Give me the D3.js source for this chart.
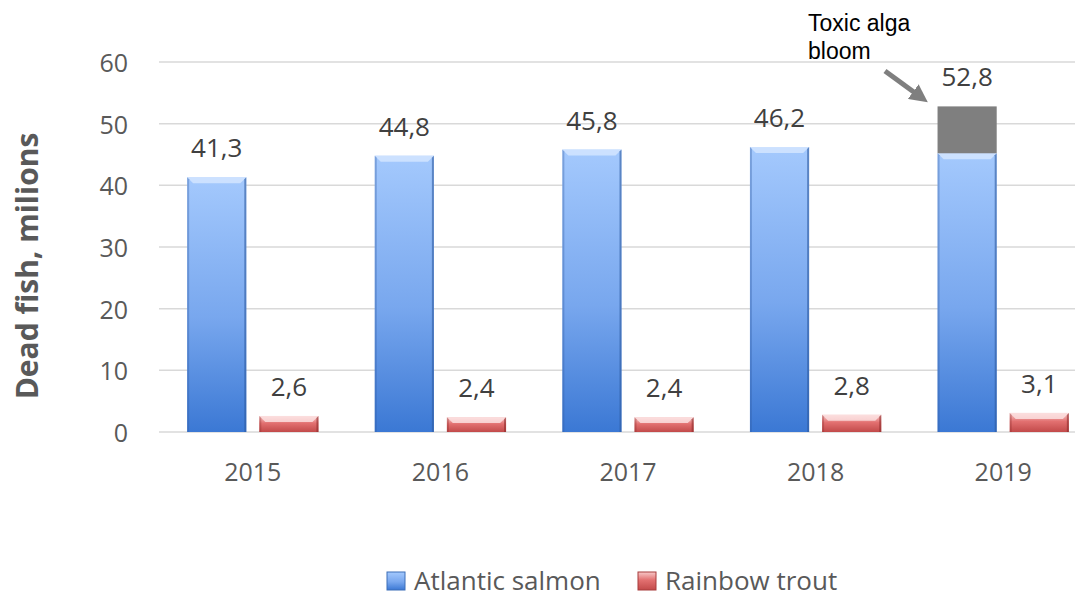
<!DOCTYPE html>
<html>
<head>
<meta charset="utf-8">
<script src="https://cdn.jsdelivr.net/npm/d3@7"></script>
<style>
  body { margin: 0; background: #fff; }
</style>
</head>
<body>
<script>
var years = ["2015", "2016", "2017", "2018", "2019"];
var seriesNames = ["Atlantic salmon", "Rainbow trout"];
var salmon = [41.3, 44.8, 45.8, 46.2, 45.2];
var salmonBloom = [0, 0, 0, 0, 7.6];
var salmonLabels = [41.3, 44.8, 45.8, 46.2, 52.8];
var trout = [2.6, 2.4, 2.4, 2.8, 3.1];
var yTicks = [0, 10, 20, 30, 40, 50, 60];

var chartWidth = 1085;
var chartHeight = 600;
var mainFont = "'Open Sans', sans-serif";

var svg = d3.select("body")
            .append("svg")
            .attr("width", chartWidth)
            .attr("height", chartHeight)
            .style("font-family", mainFont);

var defs = svg.append("defs");

var blueGrad = defs.append("linearGradient")
                   .attr("id", "blueGrad")
                   .attr("x1", 0).attr("y1", 0).attr("x2", 0).attr("y2", 1);
blueGrad.append("stop").attr("offset", "0%").attr("stop-color", "#a4c9fd");
blueGrad.append("stop").attr("offset", "55%").attr("stop-color", "#78a7ee");
blueGrad.append("stop").attr("offset", "100%").attr("stop-color", "#3b78d4");

var redGrad = defs.append("linearGradient")
                  .attr("id", "redGrad")
                  .attr("x1", 0).attr("y1", 0).attr("x2", 0).attr("y2", 1);
redGrad.append("stop").attr("offset", "0%").attr("stop-color", "#f7c9c9");
redGrad.append("stop").attr("offset", "45%").attr("stop-color", "#e27070");
redGrad.append("stop").attr("offset", "100%").attr("stop-color", "#c24a4a");

var plotLeft = 159, plotRight = 1075;

var x0 = d3.scaleBand()
           .domain(years)
           .range([plotLeft, plotLeft + 938])
           .paddingInner(0.3)
           .paddingOuter(0.15);

var x1 = d3.scaleBand()
           .domain(seriesNames)
           .range([0, x0.bandwidth()])
           .paddingInner(0.18);

var yScale = d3.scaleLinear()
               .domain([0, 60])
               .range([432, 62]);

// gridlines
svg.append("g")
   .selectAll("line")
   .data(yTicks)
   .enter()
   .append("line")
   .attr("x1", plotLeft)
   .attr("x2", plotRight)
   .attr("y1", function(d) { return yScale(d); })
   .attr("y2", function(d) { return yScale(d); })
   .attr("stroke", "#d9d9d9")
   .attr("stroke-width", 1.5);

// y tick labels
svg.append("g")
   .selectAll("text")
   .data(yTicks)
   .enter()
   .append("text")
   .attr("x", 128)
   .attr("y", function(d) { return yScale(d) + 10; })
   .attr("text-anchor", "end")
   .attr("font-size", 25)
   .attr("fill", "#595959")
   .text(function(d) { return d; });

// x tick labels
svg.append("g")
   .selectAll("text")
   .data(years)
   .enter()
   .append("text")
   .attr("x", function(d) { return x0(d) + x0.bandwidth() / 2; })
   .attr("y", 481)
   .attr("text-anchor", "middle")
   .attr("font-size", 25)
   .attr("fill", "#595959")
   .text(function(d) { return d; });

// y axis title
svg.append("text")
   .attr("transform", "translate(38," + 266 + ") rotate(-90)")
   .attr("text-anchor", "middle")
   .attr("font-size", 30)
   .attr("font-weight", "bold")
   .attr("fill", "#595959")
   .text("Dead fish, milions");

function bevelBar(g, x, w, yTop, yBot, grad, light, dark) {
  var b = Math.min(6, (yBot - yTop) / 2.5);
  g.append("rect")
   .attr("x", x).attr("y", yTop)
   .attr("width", w).attr("height", yBot - yTop)
   .attr("fill", "url(#" + grad + ")");
  g.append("path")
   .attr("d", "M" + x + "," + yTop + "L" + (x + w) + "," + yTop +
              "L" + (x + w - b) + "," + (yTop + b) + "L" + (x + b) + "," + (yTop + b) + "Z")
   .attr("fill", light).attr("opacity", 0.8);
  g.append("path")
   .attr("d", "M" + (x + w) + "," + yTop + "L" + (x + w) + "," + yBot +
              "L" + (x + w - 2) + "," + yBot + "L" + (x + w - 2) + "," + (yTop + 2) + "Z")
   .attr("fill", dark).attr("opacity", 0.6);
  g.append("path")
   .attr("d", "M" + x + "," + yTop + "L" + x + "," + yBot +
              "L" + (x + 2) + "," + yBot + "L" + (x + 2) + "," + (yTop + 2) + "Z")
   .attr("fill", dark).attr("opacity", 0.35);
}

var bars = svg.append("g");

years.forEach(function(yr, i) {
  var xs = x0(yr) + x1("Atlantic salmon");
  var xt = x0(yr) + x1("Rainbow trout");
  var w = x1.bandwidth();
  bevelBar(bars, xs, w, yScale(salmon[i]), yScale(0), "blueGrad", "#d6e7ff", "#2d5aa0");
  if (salmonBloom[i] > 0) {
    bars.append("rect")
        .attr("x", xs)
        .attr("y", yScale(salmon[i] + salmonBloom[i]))
        .attr("width", w)
        .attr("height", yScale(salmon[i]) - yScale(salmon[i] + salmonBloom[i]))
        .attr("fill", "#7f7f7f");
  }
  bevelBar(bars, xt, w, yScale(trout[i]), yScale(0), "redGrad", "#fde3e3", "#8c2a2a");
});

// data labels
var labels = svg.append("g")
                .attr("font-size", 26)
                .attr("fill", "#404040")
                .attr("text-anchor", "middle");

years.forEach(function(yr, i) {
  var w = x1.bandwidth();
  labels.append("text")
        .attr("x", x0(yr) + x1("Atlantic salmon") + w / 2)
        .attr("y", yScale(salmonLabels[i]) - 20)
        .text(String(salmonLabels[i]).replace(".", ","));
  labels.append("text")
        .attr("x", x0(yr) + x1("Rainbow trout") + w / 2)
        .attr("y", yScale(trout[i]) - 20)
        .text(String(trout[i]).replace(".", ","));
});

// annotation
defs.append("marker")
    .attr("id", "arrowHead")
    .attr("viewBox", "0 0 10 10")
    .attr("refX", 6).attr("refY", 5)
    .attr("markerWidth", 3.6).attr("markerHeight", 3.6)
    .attr("orient", "auto")
    .append("path")
    .attr("d", "M0,0L10,5L0,10Z")
    .attr("fill", "#7f7f7f");

svg.append("line")
   .attr("x1", 885).attr("y1", 71)
   .attr("x2", 922).attr("y2", 98)
   .attr("stroke", "#7f7f7f")
   .attr("stroke-width", 5)
   .attr("marker-end", "url(#arrowHead)");

var note = svg.append("text")
              .style("font-family", "'Liberation Sans', Arial, sans-serif")
              .attr("font-size", 23)
              .attr("fill", "#000");
note.append("tspan").attr("x", 808).attr("y", 31).text("Toxic alga");
note.append("tspan").attr("x", 808).attr("y", 59).text("bloom");

// legend
var legend = svg.append("g");
var legendX = [387, 638];
seriesNames.forEach(function(name, i) {
  var grad = i === 0 ? "blueGrad" : "redGrad";
  var lx = legendX[i];
  legend.append("rect")
        .attr("x", lx).attr("y", 572)
        .attr("width", 18).attr("height", 18)
        .attr("fill", "url(#" + grad + ")")
        .attr("stroke", i === 0 ? "#3d6fb8" : "#a83c3c")
        .attr("stroke-width", 1);
  legend.append("text")
        .attr("x", lx + 27)
        .attr("y", 590)
        .attr("font-size", 26)
        .attr("fill", "#595959")
        .text(name);
});
</script>
</body>
</html>
